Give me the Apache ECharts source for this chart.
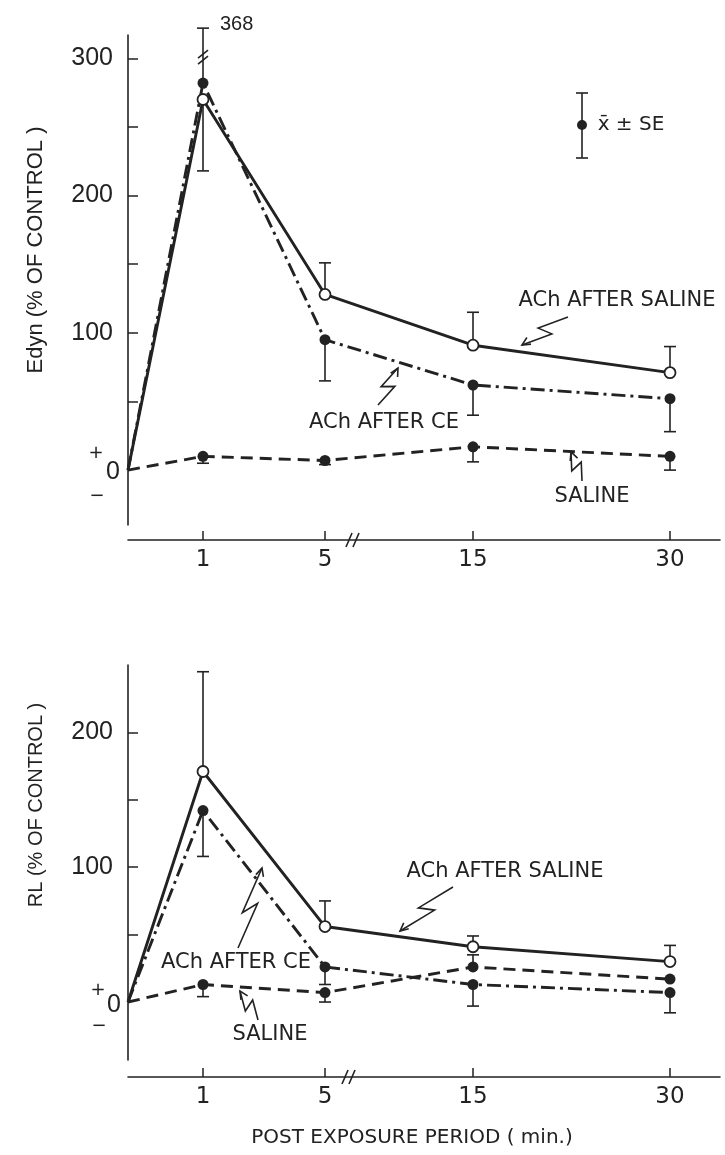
<!DOCTYPE html>
<html><head><meta charset="utf-8">
<script src="https://cdn.jsdelivr.net/npm/echarts@6/dist/echarts.min.js"></script>
<style>html,body{margin:0;padding:0;background:#fff}#c{width:725px;height:1155px}</style>
</head><body><div id="c"></div>
<script>
// ---------- DATA ----------
const times = [0, 1, 5, 15, 30];
const xTickLabels = ['1', '5', '15', '30'];

// Edyn (% of control)
const edynAchSaline    = [0, 270, 128, 91, 71];
const edynAchSalineErr = [null, 218, 151, 115, 90];
const edynAchCE        = [0, 282, 95, 62, 52];
const edynAchCEErr     = [null, 368, 65, 40, 28];
const edynSaline       = [0, 10, 7, 17, 10];
const edynSalineErr    = [null, 5, 4, 6, 0];
const edynYLabels = [100, 200, 300];
const edynYTicks  = [50, 100, 150, 200, 250, 300];

// RL (% of control)
const rlAchSaline    = [0, 171, 56, 41, 30];
const rlAchSalineErr = [null, 245, 75, 49, 42];
const rlAchCE        = [0, 142, 26, 13, 7];
const rlAchCEErr     = [null, 108, 13, -3, -8];
const rlSaline       = [0, 13, 7, 26, 17];
const rlSalineErr    = [null, 4, 0, 35, null];
const rlYLabels = [100, 200];
const rlYTicks  = [50, 100, 150, 200];

// ---------- LAYOUT (broken time axis) ----------
const timeAxisPos = {0: 0, 1: 75, 5: 197, 15: 345, 30: 542};
const timeAxisMax = 592;
const edynBreakShown = 322;   // where an off-scale bar is cut

const INK = '#222';
const FONT_NUM = "'Liberation Sans Narrow','Liberation Sans',sans-serif";
const FONT_TXT = "'DejaVu Sans',sans-serif";

function lineData(vals) {
  return times.map((t, i) => ({
    value: [timeAxisPos[t], vals[i]],
    symbol: t === 0 ? 'none' : undefined
  }));
}
function errSeries(gi, vals, ends, breakAt) {
  const data = [];
  times.forEach((t, i) => {
    if (ends[i] === null || ends[i] === undefined) return;
    const shown = (breakAt != null && ends[i] > breakAt) ? breakAt : ends[i];
    data.push([timeAxisPos[t], vals[i], shown, ends[i]]);
  });
  return {
    type: 'custom', xAxisIndex: gi, yAxisIndex: gi, data, z: 3, clip: false,
    renderItem: (p, api) => {
      const a = api.coord([api.value(0), api.value(1)]);
      const b = api.coord([api.value(0), api.value(2)]);
      const st = {stroke: INK, lineWidth: 1.6};
      const ch = [
        {type: 'line', shape: {x1: a[0], y1: a[1], x2: b[0], y2: b[1]}, style: st},
        {type: 'line', shape: {x1: b[0] - 6, y1: b[1], x2: b[0] + 6, y2: b[1]}, style: st}
      ];
      if (api.value(3) !== api.value(2)) {
        const y = b[1] + 29;
        ch.push({type: 'line', shape: {x1: b[0] - 5, y1: y + 1, x2: b[0] + 5, y2: y - 7}, style: st});
        ch.push({type: 'line', shape: {x1: b[0] - 5, y1: y + 7, x2: b[0] + 5, y2: y - 1}, style: st});
        ch.push({type: 'text', style: {text: String(api.value(3)), x: b[0] + 17, y: b[1] - 4,
          fill: INK, font: "20px " + FONT_NUM, verticalAlign: 'middle'}});
      }
      return {type: 'group', children: ch};
    }
  };
}
function lineSeries(gi, vals, kind) {
  const s = {
    type: 'line', xAxisIndex: gi, yAxisIndex: gi, data: lineData(vals),
    symbol: 'circle', symbolSize: 11, z: 4,
    lineStyle: {color: INK, width: 2.9},
    itemStyle: {color: INK}
  };
  if (kind === 'open') {
    s.symbol = 'circle'; s.symbolSize = 11; s.z = 5;
    s.itemStyle = {color: '#fff', borderColor: INK, borderWidth: 1.8};
  } else if (kind === 'dashdot') {
    s.lineStyle.type = [14, 5, 3, 5];
  } else if (kind === 'dash') {
    s.lineStyle.type = [12, 7];
  }
  return s;
}
function xAxis(gi, offset) {
  const vals = [1, 5, 15, 30].map(t => timeAxisPos[t]);
  return {
    gridIndex: gi, type: 'value', min: 0, max: timeAxisMax, offset,
    axisLine: {show: true, onZero: false, lineStyle: {color: INK, width: 1.6}},
    axisTick: {show: true, inside: true, length: 9, customValues: vals, lineStyle: {color: INK, width: 1.5}},
    axisLabel: {show: true, customValues: vals, margin: 9, color: INK, fontSize: 23, fontFamily: FONT_TXT,
      formatter: v => xTickLabels[vals.indexOf(v)] || ''},
    splitLine: {show: false}
  };
}
function yAxis(gi, min, max, ticks, labels) {
  return {
    gridIndex: gi, type: 'value', min, max,
    axisLine: {show: true, onZero: false, lineStyle: {color: INK, width: 1.6}},
    axisTick: {show: true, inside: true, length: 10, customValues: ticks, lineStyle: {color: INK, width: 1.5}},
    axisLabel: {show: true, customValues: labels, margin: 15, color: INK, fontSize: 25, fontFamily: FONT_NUM},
    splitLine: {show: false}
  };
}
function zig(sx, sy, tx, ty) {
  const dx = tx - sx, dy = ty - sy, L = Math.hypot(dx, dy);
  const ux = dx / L, uy = dy / L, nx = -uy, ny = ux;
  const A = [sx + dx * 0.58 + nx * 6, sy + dy * 0.58 + ny * 6];
  const B = [sx + dx * 0.42 - nx * 6, sy + dy * 0.42 - ny * 6];
  const h = 9, ang = 0.45;
  const c = Math.cos(ang), s = Math.sin(ang);
  const h1 = [tx - h * (ux * c - uy * s), ty - h * (uy * c + ux * s)];
  const h2 = [tx - h * (ux * c + uy * s), ty - h * (uy * c - ux * s)];
  const st = {stroke: INK, lineWidth: 1.6, fill: null};
  return [
    {type: 'polyline', shape: {points: [[sx, sy], A, B, [tx, ty]]}, style: st},
    {type: 'polyline', shape: {points: [h1, [tx, ty], h2]}, style: st}
  ];
}
function txt(t, x, y, size, font, extra) {
  return Object.assign({type: 'text', x, y, style: {text: t, fill: INK, font: size + 'px ' + font,
    align: 'center', verticalAlign: 'middle'}}, extra || {});
}
function brk(x, y) {
  const st = {stroke: INK, lineWidth: 1.6};
  return [
    {type: 'line', shape: {x1: x - 6, y1: y + 7, x2: x, y2: y - 7}, style: st},
    {type: 'line', shape: {x1: x + 1, y1: y + 7, x2: x + 7, y2: y - 7}, style: st}
  ];
}

const graphics = [].concat(
  // axis titles
  [txt('Edyn (% OF CONTROL )', 36, 250, 22, "'Liberation Sans',sans-serif", {rotation: Math.PI / 2})],
  [txt('RL (% OF CONTROL )', 36, 805, 20, "'Liberation Sans',sans-serif", {rotation: Math.PI / 2})],
  [txt('POST EXPOSURE PERIOD ( min.)', 412, 1138, 20, FONT_TXT)],
  // + 0 - markers
  [txt('+', 96, 453, 18, FONT_TXT), txt('0', 113, 472, 25, FONT_NUM), txt('\u2212', 97, 496, 18, FONT_TXT)],
  [txt('+', 98, 990, 18, FONT_TXT), txt('0', 114, 1005, 25, FONT_NUM), txt('\u2212', 99, 1026, 18, FONT_TXT)],
  // axis breaks
  brk(352, 540), brk(348, 1077),
  // legend
  [{type: 'line', shape: {x1: 582, y1: 93, x2: 582, y2: 158}, style: {stroke: INK, lineWidth: 1.6}},
   {type: 'line', shape: {x1: 576, y1: 93, x2: 588, y2: 93}, style: {stroke: INK, lineWidth: 1.6}},
   {type: 'line', shape: {x1: 576, y1: 158, x2: 588, y2: 158}, style: {stroke: INK, lineWidth: 1.6}},
   {type: 'circle', shape: {cx: 582, cy: 125, r: 5}, style: {fill: INK}},
   txt('x\u0304 \u00b1 SE', 631, 125, 20, FONT_TXT)],
  // top annotations
  [txt('ACh AFTER SALINE', 617, 301, 21, FONT_TXT), txt('ACh AFTER CE', 384, 423, 21, FONT_TXT), txt('SALINE', 592, 497, 21, FONT_TXT)],
  zig(568, 317, 522, 345), zig(378, 405, 398, 368), zig(582, 481, 571, 452),
  // bottom annotations
  [txt('ACh AFTER SALINE', 505, 872, 21, FONT_TXT), txt('ACh AFTER CE', 236, 963, 21, FONT_TXT), txt('SALINE', 270, 1035, 21, FONT_TXT)],
  zig(453, 887, 400, 931), zig(238, 948, 262, 868), zig(258, 1020, 240, 991)
);

const chart = echarts.init(document.getElementById('c'), null, {renderer: 'canvas'});
chart.setOption({
  backgroundColor: '#fff',
  animation: false,
  grid: [
    {left: 128, right: 5, top: 35, height: 490},
    {left: 128, right: 5, top: 665, height: 395}
  ],
  xAxis: [xAxis(0, 15), xAxis(1, 17)],
  yAxis: [yAxis(0, -40, 317, edynYTicks, edynYLabels), yAxis(1, -43, 250, rlYTicks, rlYLabels)],
  series: [
    errSeries(0, edynAchSaline, edynAchSalineErr),
    errSeries(0, edynAchCE, edynAchCEErr, edynBreakShown),
    errSeries(0, edynSaline, edynSalineErr),
    lineSeries(0, edynSaline, 'dash'),
    lineSeries(0, edynAchCE, 'dashdot'),
    lineSeries(0, edynAchSaline, 'open'),
    errSeries(1, rlAchSaline, rlAchSalineErr),
    errSeries(1, rlAchCE, rlAchCEErr),
    errSeries(1, rlSaline, rlSalineErr),
    lineSeries(1, rlSaline, 'dash'),
    lineSeries(1, rlAchCE, 'dashdot'),
    lineSeries(1, rlAchSaline, 'open')
  ],
  graphic: graphics
});
</script></body></html>
